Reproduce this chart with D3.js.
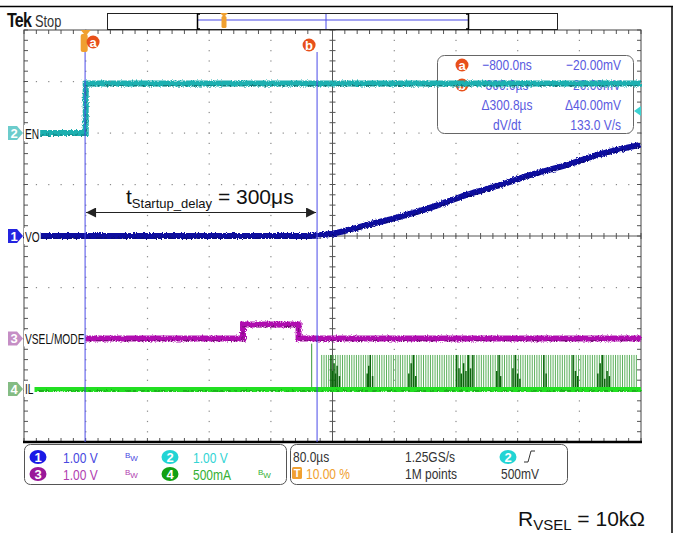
<!DOCTYPE html>
<html>
<head>
<meta charset="utf-8">
<script src="https://cdn.jsdelivr.net/npm/d3@7"></script>
<style>
  body { margin: 0; background: #fff; }
  svg { display: block; }
  .scope { font-family: "Liberation Sans", Arial, sans-serif; }
  .anno { font-family: "Liberation Sans", Arial, sans-serif; }
</style>
</head>
<body>
<div id="chart"></div>
<script>

// --- scope data (time in µs, volts / mA) ---
var timeDomain = [-80, 720];        // 80 µs/div, trigger at 10 %
var divDomain = [-4, 4];

var enTrace = [[-80, 0], [0, 0], [0, 0.96], [720, 0.96]];
var voTrace = [[-80, 0], [285, 0], [300, 0.01], [321, 0.05], [364, 0.21], [407, 0.37], [451, 0.57],
               [494, 0.80], [537, 0.99], [580, 1.20], [624, 1.38], [667, 1.59], [719, 1.77]];
var vselTrace = [[-80, 0], [204, 0], [204, 0.27], [276, 0.27], [276, 0], [720, 0]];
var ilTrace = [[-80, 0], [720, 0]];

var ilPulses = [306, 309, 312, 315, 318, 321, 324, 327, 330, 333, 336, 339, 342, 345, 348, 351, 354,
  357, 360, 363, 366, 369, 372, 375, 378, 381, 384, 387, 390, 393, 396, 399, 402, 405, 408, 411, 414,
  417, 420, 423, 426, 429, 432, 435, 438, 441, 444, 447, 450, 453, 456, 459, 462, 465, 468, 471, 474,
  477, 480, 483, 486, 489, 492, 495, 498, 501, 504, 507, 510, 513, 516, 519, 522, 525, 528, 531, 534,
  537, 540, 543, 546, 549, 552, 555, 558, 561, 564, 567, 570, 573, 576, 579, 582, 585, 588, 591, 594,
  597, 600, 603, 606, 609, 612, 615, 618, 621, 624, 627, 630, 633, 636, 639, 642, 645, 648, 651, 654,
  657, 660, 663, 666, 669, 672, 675, 678, 681, 684, 687, 690, 693, 696, 699, 702, 705, 708, 711, 714];
var ilPulsePeak = 330;              // mA
var ilFirstPulse = [293, 440];      // isolated first pulse [µs, mA]
var ilDarkPulses = [[318, 330], [320, 175], [322, 250], [324, 150], [326, 225], [329, 125],
  [365, 150], [367, 225], [369, 330], [372, 125], [419, 150], [422, 250], [425, 330], [428, 125],
  [481, 330], [484, 200], [487, 150], [490, 250], [493, 175], [496, 330], [499, 200], [502, 330],
  [533, 175], [536, 330], [538, 125], [554, 200], [557, 330], [560, 150], [563, 100],
  [594, 330], [597, 150], [632, 330], [635, 175], [638, 125],
  [664, 150], [667, 250], [670, 330], [673, 100], [676, 175], [679, 125]];

var cursorTimes = [-0.8, 300];
var cursorNames = ["a", "b"];
var readoutRows = [["a", "\u2212800.0ns", "\u221220.00mV"],
                   ["b", "300.0\u00b5s", "20.00mV"],
                   ["", "\u0394300.8\u00b5s", "\u039440.00mV"],
                   ["", "dV/dt", "133.0 V/s"]];

var channels = [
  {id: "1", name: "VO",        offset: 0,     perDiv: 1,   data: voTrace,   color: "#0a0a9e", marker: "#2424e0"},
  {id: "2", name: "EN",        offset: 2.0,   perDiv: 1,   data: enTrace,   color: "#1ab0b0", marker: "#6ccccc"},
  {id: "3", name: "VSEL/MODE", offset: -1.99, perDiv: 1,   data: vselTrace, color: "#b010b0", marker: "#c58ec5"},
  {id: "4", name: "IL",        offset: -2.97, perDiv: 500, data: ilTrace,   color: "#22e022", marker: "#84bc84"}
];

var statusLeft = [
  {id: "1", text: "1.00 V", bw: true,  badge: "#1a1ae6", color: "#4848e0"},
  {id: "2", text: "1.00 V", bw: false, badge: "#22d4d4", color: "#33d4d4"},
  {id: "3", text: "1.00 V", bw: true,  badge: "#9a189a", color: "#b040b0"},
  {id: "4", text: "500mA",  bw: true,  badge: "#12a012", color: "#34b034"}
];

var width = 673, height = 533;
var plot = {left: 24, right: 641, top: 30, bottom: 442};
var narrow = 0.8;   // condensed look of the scope font

var svg = d3.select("#chart").append("svg")
  .attr("width", width).attr("height", height);

var defs = svg.append("defs");
var fuzz = defs.append("filter").attr("id", "fuzz")
  .attr("x", "-2%").attr("y", "-50%").attr("width", "104%").attr("height", "200%");
fuzz.append("feTurbulence").attr("type", "fractalNoise").attr("baseFrequency", "1.2 0.8")
  .attr("numOctaves", 1).attr("seed", 3).attr("result", "n");
fuzz.append("feDisplacementMap").attr("in", "SourceGraphic").attr("in2", "n")
  .attr("scale", 4).attr("xChannelSelector", "R").attr("yChannelSelector", "G");

var x = d3.scaleLinear().domain(timeDomain).range([plot.left, plot.right]);
var y = d3.scaleLinear().domain(divDomain).range([plot.bottom, plot.top]);

// text helper with horizontally condensed glyphs
function stext(g, px, py, str, size, color, anchor, sx) {
  return g.append("text")
    .attr("transform", "translate(" + px + "," + py + ") scale(" + (sx || narrow) + ",1)")
    .attr("font-size", size).attr("fill", color)
    .attr("text-anchor", anchor || "start").text(str);
}

// page frame lines
svg.append("line").attr("x1", 0).attr("x2", width).attr("y1", 6.5).attr("y2", 6.5)
  .attr("stroke", "#000").attr("stroke-width", 1.5);
svg.append("line").attr("x1", 672).attr("x2", 672).attr("y1", 6).attr("y2", height)
  .attr("stroke", "#000").attr("stroke-width", 1.5);

// --- graticule ---
var grid = svg.append("g");
var majorT = d3.range(timeDomain[0], timeDomain[1] + 1, 80);
var minorT = d3.range(timeDomain[0], timeDomain[1] + 0.1, 16);
var majorD = d3.range(-4, 5, 1);
var minorD = d3.range(-4, 4.01, 0.2);

majorT.slice(1, -1).forEach(function (t) {
  if (t === 320) return;
  grid.selectAll(null).data(minorD).enter().append("rect")
    .attr("x", x(t) - 0.5).attr("y", function (d) { return y(d) - 0.5; })
    .attr("width", 1.2).attr("height", 1.2).attr("fill", "#8a8a8a");
});
majorD.slice(1, -1).forEach(function (d) {
  if (d === 0) return;
  grid.selectAll(null).data(minorT).enter().append("rect")
    .attr("x", function (t) { return x(t) - 0.5; }).attr("y", y(d) - 0.5)
    .attr("width", 1.2).attr("height", 1.2).attr("fill", "#8a8a8a");
});

// center cross with ticks
grid.append("line").attr("x1", x(320)).attr("x2", x(320)).attr("y1", plot.top).attr("y2", plot.bottom)
  .attr("stroke", "#555").attr("stroke-width", 1);
grid.append("line").attr("x1", plot.left).attr("x2", plot.right).attr("y1", y(0)).attr("y2", y(0))
  .attr("stroke", "#555").attr("stroke-width", 1);
grid.selectAll(null).data(minorD).enter().append("line")
  .attr("x1", x(320) - 3).attr("x2", x(320) + 3)
  .attr("y1", function (d) { return y(d); }).attr("y2", function (d) { return y(d); })
  .attr("stroke", "#555");
grid.selectAll(null).data(minorT).enter().append("line")
  .attr("y1", y(0) - 3).attr("y2", y(0) + 3)
  .attr("x1", function (t) { return x(t); }).attr("x2", function (t) { return x(t); })
  .attr("stroke", "#555");

// edge ticks
grid.selectAll(null).data(minorT).enter().append("line")
  .attr("x1", function (t) { return x(t); }).attr("x2", function (t) { return x(t); })
  .attr("y1", plot.top).attr("y2", plot.top + 4).attr("stroke", "#555");
grid.selectAll(null).data(minorT).enter().append("line")
  .attr("x1", function (t) { return x(t); }).attr("x2", function (t) { return x(t); })
  .attr("y1", plot.bottom - 4).attr("y2", plot.bottom).attr("stroke", "#555");
grid.selectAll(null).data(minorD).enter().append("line")
  .attr("y1", function (d) { return y(d); }).attr("y2", function (d) { return y(d); })
  .attr("x1", plot.left).attr("x2", plot.left + 4).attr("stroke", "#555");
grid.selectAll(null).data(minorD).enter().append("line")
  .attr("y1", function (d) { return y(d); }).attr("y2", function (d) { return y(d); })
  .attr("x1", plot.right - 4).attr("x2", plot.right).attr("stroke", "#555");

grid.append("rect").attr("x", plot.left).attr("y", plot.top)
  .attr("width", plot.right - plot.left).attr("height", plot.bottom - plot.top)
  .attr("fill", "none").attr("stroke", "#444").attr("stroke-width", 1);
grid.append("line").attr("x1", plot.left - 1).attr("x2", plot.right + 1)
  .attr("y1", plot.bottom).attr("y2", plot.bottom).attr("stroke", "#000").attr("stroke-width", 2.5);

// --- cursor readout box (under traces) ---
var box = svg.append("g").attr("class", "scope");
box.append("rect").attr("x", 437.5).attr("y", 55.5).attr("width", 196).attr("height", 78)
  .attr("rx", 7).attr("fill", "#fff").attr("stroke", "#666").attr("stroke-width", 1);
readoutRows.forEach(function (r, i) {
  var cy = 65 + i * 20;
  if (r[0]) {
    box.append("circle").attr("cx", 462).attr("cy", cy).attr("r", 6.5).attr("fill", "#e8501a");
    box.append("text").attr("x", 462).attr("y", cy + 4.5).attr("text-anchor", "middle")
      .attr("fill", "#fff").attr("font-size", 13).attr("font-weight", "bold").text(r[0]);
  }
  stext(box, 507, cy + 5, r[1], 15, "#5a5ae0", "middle");
  stext(box, 621, cy + 5, r[2], 15, "#5a5ae0", "end");
});
// trigger level arrow
box.append("path").attr("d", "M634,111 L641,106 L641,116 Z").attr("fill", "#3cd2d2");

// --- traces ---
var traces = svg.append("g");

// IL switching pulses
var ch4 = channels[3];
function ilY(mA) { return y(ch4.offset + mA / ch4.perDiv); }
traces.selectAll(".pulse").data(ilPulses).enter().append("line")
  .attr("class", "pulse")
  .attr("x1", function (t) { return x(t); }).attr("x2", function (t) { return x(t); })
  .attr("y1", ilY(0)).attr("y2", ilY(ilPulsePeak))
  .attr("stroke", "#5cb05c").attr("stroke-width", 1);
traces.append("line")
  .attr("x1", x(ilFirstPulse[0])).attr("x2", x(ilFirstPulse[0]))
  .attr("y1", ilY(0)).attr("y2", ilY(ilFirstPulse[1]))
  .attr("stroke", "#3a9a3a").attr("stroke-width", 1);
traces.selectAll(".dpulse").data(ilDarkPulses).enter().append("line")
  .attr("class", "dpulse")
  .attr("x1", function (d) { return x(d[0]); }).attr("x2", function (d) { return x(d[0]); })
  .attr("y1", ilY(0)).attr("y2", function (d) { return ilY(d[1]); })
  .attr("stroke", "#0b640b").attr("stroke-width", 1.5);

channels.slice().reverse().forEach(function (ch) {
  var line = d3.line()
    .x(function (d) { return x(d[0]); })
    .y(function (d) { return y(ch.offset + d[1] / ch.perDiv); });
  if (ch.id === "1") line.curve(d3.curveMonotoneX);
  var path = line(ch.data);
  var g = traces.append("g").attr("filter", "url(#fuzz)");
  g.append("path").attr("d", path).attr("fill", "none")
    .attr("stroke", ch.color).attr("stroke-width", ch.id === "4" ? 6.5 : 6);
  // darker speckle along lower edge of the trace band
  g.append("path").attr("d", path).attr("fill", "none")
    .attr("transform", "translate(0,2)")
    .attr("stroke", d3.color(ch.color).darker(1)).attr("stroke-width", 1.2)
    .attr("stroke-dasharray", "4,3,2,5,6,2,3,4");
});

// --- channel markers & labels ---
var markers = svg.append("g").attr("class", "scope");
channels.forEach(function (ch) {
  var cy = y(ch.offset);
  var lbl = stext(markers, 25, cy + 5.5, ch.name, 15, "#111", "start", 0.68);
  var w = lbl.node().getComputedTextLength() * 0.68;
  markers.insert("rect", "text").attr("x", 24).attr("y", cy - 8).attr("width", w + 2)
    .attr("height", 16).attr("fill", "#fff");
  markers.append("path")
    .attr("d", "M8," + (cy - 7) + " L17," + (cy - 7) + " L23," + cy + " L17," + (cy + 7) + " L8," + (cy + 7) + " Z")
    .attr("fill", ch.marker);
  markers.append("text").attr("x", 14).attr("y", cy + 5).attr("text-anchor", "middle")
    .attr("font-size", 13).attr("font-weight", "bold").attr("fill", "#fff").text(ch.id);
});

// --- cursors ---
var cur = svg.append("g").attr("class", "scope");
cursorTimes.forEach(function (t, i) {
  cur.append("line").attr("x1", x(t)).attr("x2", x(t)).attr("y1", i === 0 ? 50 : 52).attr("y2", plot.bottom)
    .attr("stroke", "#4a4ae8").attr("stroke-width", 1);
});
// trigger position marker
cur.append("path").attr("d", "M" + (x(0) - 5) + ",30 L" + (x(0) + 5) + ",30 L" + x(0) + ",36 Z")
  .attr("fill", "#f0a030");
cur.append("rect").attr("x", x(0) - 5).attr("y", 34).attr("width", 7).attr("height", 18)
  .attr("rx", 2).attr("fill", "#f0a030");
[[x(cursorTimes[0]) + 8, 42], [x(cursorTimes[1]) - 8, 45]].forEach(function (p, i) {
  cur.append("circle").attr("cx", p[0]).attr("cy", p[1]).attr("r", 6.5).attr("fill", "#e8501a");
  cur.append("text").attr("x", p[0]).attr("y", p[1] + 4.5).attr("text-anchor", "middle")
    .attr("fill", "#fff").attr("font-size", 13).attr("font-weight", "bold").text(cursorNames[i]);
});

// --- header ---
var head = svg.append("g").attr("class", "scope");
stext(head, 7, 27, "Tek", 20, "#111", "start", 0.8).attr("font-weight", "bold").attr("letter-spacing", -1);
stext(head, 35, 27, "Stop", 16, "#333");
head.append("rect").attr("x", 107.5).attr("y", 13.5).attr("width", 450).attr("height", 16)
  .attr("fill", "#fff").attr("stroke", "#222").attr("stroke-width", 1);
head.append("line").attr("x1", 198).attr("x2", 468).attr("y1", 20).attr("y2", 20)
  .attr("stroke", "#4a4ae8").attr("stroke-width", 1.2);
head.append("path").attr("d", "M200,14 L197.5,14 L197.5,29 L200,29").attr("fill", "none")
  .attr("stroke", "#000").attr("stroke-width", 1.5);
head.append("path").attr("d", "M466,14 L468.5,14 L468.5,29 L466,29").attr("fill", "none")
  .attr("stroke", "#000").attr("stroke-width", 1.5);
head.append("line").attr("x1", 326).attr("x2", 326).attr("y1", 14).attr("y2", 29)
  .attr("stroke", "#4a4ae8").attr("stroke-width", 1);
head.append("path").attr("d", "M220,13 L228,13 L224,17 Z").attr("fill", "#f0a030");
head.append("rect").attr("x", 221.5).attr("y", 16).attr("width", 5).attr("height", 12)
  .attr("rx", 1.5).attr("fill", "#f0a030");

// --- annotation ---
var ann = svg.append("g").attr("class", "anno");
defs.append("marker").attr("id", "ah").attr("viewBox", "0 0 10 10")
  .attr("refX", 10).attr("refY", 5).attr("markerWidth", 14).attr("markerHeight", 10)
  .attr("markerUnits", "userSpaceOnUse").attr("orient", "auto-start-reverse")
  .append("path").attr("d", "M0,0 L10,5 L0,10 Z").attr("fill", "#222");
ann.append("line").attr("x1", x(cursorTimes[0]) + 1).attr("x2", x(cursorTimes[1]) - 1)
  .attr("y1", 212.5).attr("y2", 212.5).attr("stroke", "#222").attr("stroke-width", 1.2)
  .attr("marker-start", "url(#ah)").attr("marker-end", "url(#ah)");
var at = ann.append("text").attr("x", 126).attr("y", 204).attr("font-size", 21).attr("fill", "#111");
at.append("tspan").text("t");
at.append("tspan").attr("font-size", 13).attr("dy", 4).text("Startup_delay");
at.append("tspan").attr("dy", -4).text(" = 300\u03bcs");

var rt = ann.append("text").attr("x", 518).attr("y", 526).attr("font-size", 21).attr("fill", "#111");
rt.append("tspan").text("R");
rt.append("tspan").attr("font-size", 15).attr("dy", 4).text("VSEL");
rt.append("tspan").attr("dy", -4).text(" = 10k\u03a9");

// --- status bar ---
var st = svg.append("g").attr("class", "scope");
st.append("rect").attr("x", 24.5).attr("y", 444.5).attr("width", 262).attr("height", 40)
  .attr("rx", 6).attr("fill", "#fff").attr("stroke", "#555");
st.append("rect").attr("x", 290.5).attr("y", 444.5).attr("width", 277).attr("height", 40)
  .attr("rx", 6).attr("fill", "#fff").attr("stroke", "#555");
statusLeft.forEach(function (s, i) {
  var order = [[0, 0], [1, 0], [0, 1], [1, 1]][i];
  var bx = order[0] === 0 ? 38 : 170, by = order[1] === 0 ? 457 : 474;
  st.append("ellipse").attr("cx", bx).attr("cy", by).attr("rx", 8.5).attr("ry", 7).attr("fill", s.badge);
  st.append("text").attr("x", bx).attr("y", by + 5).attr("text-anchor", "middle")
    .attr("font-size", 13).attr("font-weight", "bold").attr("fill", "#fff").text(s.id);
  stext(st, order[0] === 0 ? bx + 25 : bx + 23, by + 5.5, s.text, 15, s.color);
  if (s.bw) {
    var bwx = order[0] === 0 ? 125 : 258;
    var bw = st.append("text").attr("x", bwx).attr("y", by + 1).attr("font-size", 8).attr("fill", s.color);
    bw.append("tspan").text("B");
    bw.append("tspan").attr("dy", 3).text("W");
  }
});
stext(st, 293, 462, "80.0\u00b5s", 15, "#333");
st.append("rect").attr("x", 292).attr("y", 467).attr("width", 10).attr("height", 12).attr("rx", 1.5).attr("fill", "#f0a030");
st.append("text").attr("x", 297).attr("y", 477).attr("text-anchor", "middle").attr("font-size", 11)
  .attr("font-weight", "bold").attr("fill", "#fff").text("T");
stext(st, 306, 479, "10.00 %", 15, "#f0a030");
stext(st, 405, 462, "1.25GS/s", 15, "#333");
stext(st, 405, 479, "1M points", 15, "#333");
st.append("ellipse").attr("cx", 508).attr("cy", 457).attr("rx", 8.5).attr("ry", 7).attr("fill", "#22d4d4");
st.append("text").attr("x", 508).attr("y", 462).attr("text-anchor", "middle").attr("font-size", 13)
  .attr("font-weight", "bold").attr("fill", "#fff").text("2");
st.append("path").attr("d", "M524,462 L528,462 L531,451 L535,451").attr("fill", "none")
  .attr("stroke", "#333").attr("stroke-width", 1);
stext(st, 501, 479, "500mV", 15, "#333");

</script>
</body>
</html>
